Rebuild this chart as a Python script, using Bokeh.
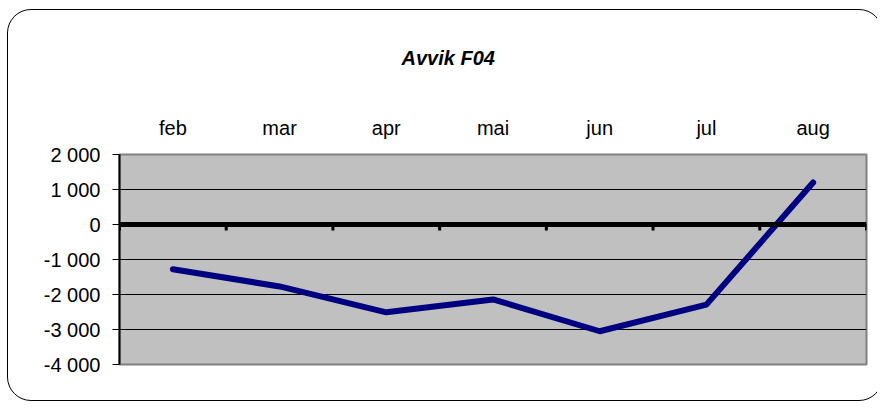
from bokeh.plotting import figure
from bokeh.models import Range1d, FixedTicker, Span, InlineStyleSheet, LinearAxis
from bokeh.embed import file_html
from bokeh.resources import INLINE

months = ["feb", "mar", "apr", "mai", "jun", "jul", "aug"]
avvik = [-1280, -1770, -2510, -2140, -3050, -2290, 1200]
y_ticks = [-4000, -3000, -2000, -1000, 0, 1000, 2000]
y_tick_labels = ["-4 000", "-3 000", "-2 000", "-1 000", "0", "1 000", "2 000"]
title_text = "Avvik  F04"

FONT = "Liberation Sans"

n = len(months)
xs = [i + 0.5 for i in range(n)]

p = figure(width=877, height=402, output_backend="svg", toolbar_location=None,
           x_range=Range1d(0, n), y_range=Range1d(y_ticks[0], y_ticks[-1]),
           x_axis_location=None, y_axis_location="left",
           min_border_left=119, min_border_right=11, min_border_bottom=38, min_border_top=154)

p.stylesheets = [InlineStyleSheet(css="""
:host { position: relative; overflow: hidden; }
:host::after { content: ''; position: absolute; left: 7px; top: 9px; width: 874px; height: 390px;
  border: 1px solid #000; border-radius: 24px; pointer-events: none; }
""")]

p.background_fill_color = "#C0C0C0"
p.border_fill_color = "white"
p.outline_line_color = "#808080"
p.outline_line_width = 2

# title
p.title.text = title_text
p.title.align = "left"
p.title.offset = 282
p.title.text_font = FONT
p.title.text_font_size = "20px"
p.title.text_font_style = "bold italic"
p.title.text_color = "black"
p.title.standoff = 89

# top category axis
top = LinearAxis(ticker=FixedTicker(ticks=xs),
                 major_label_overrides={x: m for x, m in zip(xs, months)})
top.axis_line_color = None
top.major_tick_line_color = None
top.minor_tick_line_color = None
top.major_label_text_font = FONT
top.major_label_text_font_size = "20px"
top.major_label_text_color = "black"
top.major_label_standoff = 10
p.add_layout(top, "above")

# y axis
ya = p.yaxis[0]
ya.ticker = FixedTicker(ticks=y_ticks)
ya.major_label_overrides = {t: l for t, l in zip(y_ticks, y_tick_labels)}
ya.axis_line_color = "black"
ya.axis_line_width = 2
ya.major_tick_line_color = "black"
ya.major_tick_line_width = 1
ya.major_tick_out = 7
ya.major_tick_in = 0
ya.minor_tick_line_color = None
ya.major_label_text_font = FONT
ya.major_label_text_font_size = "20px"
ya.major_label_text_color = "black"
ya.major_label_standoff = 12

p.xgrid.visible = False
p.ygrid.ticker = FixedTicker(ticks=y_ticks)
p.ygrid.grid_line_color = "black"
p.ygrid.grid_line_width = 1

# zero line and its ticks
p.add_layout(Span(location=0, dimension="width", line_color="black", line_width=5))
bounds = list(range(n + 1))
tick_len = 170
p.segment(x0=bounds, y0=[0] * len(bounds), x1=bounds, y1=[-tick_len] * len(bounds),
          line_color="black", line_width=3)

p.line(xs, avvik, line_color="#000080", line_width=6, line_cap="round", line_join="round")

open("out.html", "w").write(file_html(p, INLINE))
